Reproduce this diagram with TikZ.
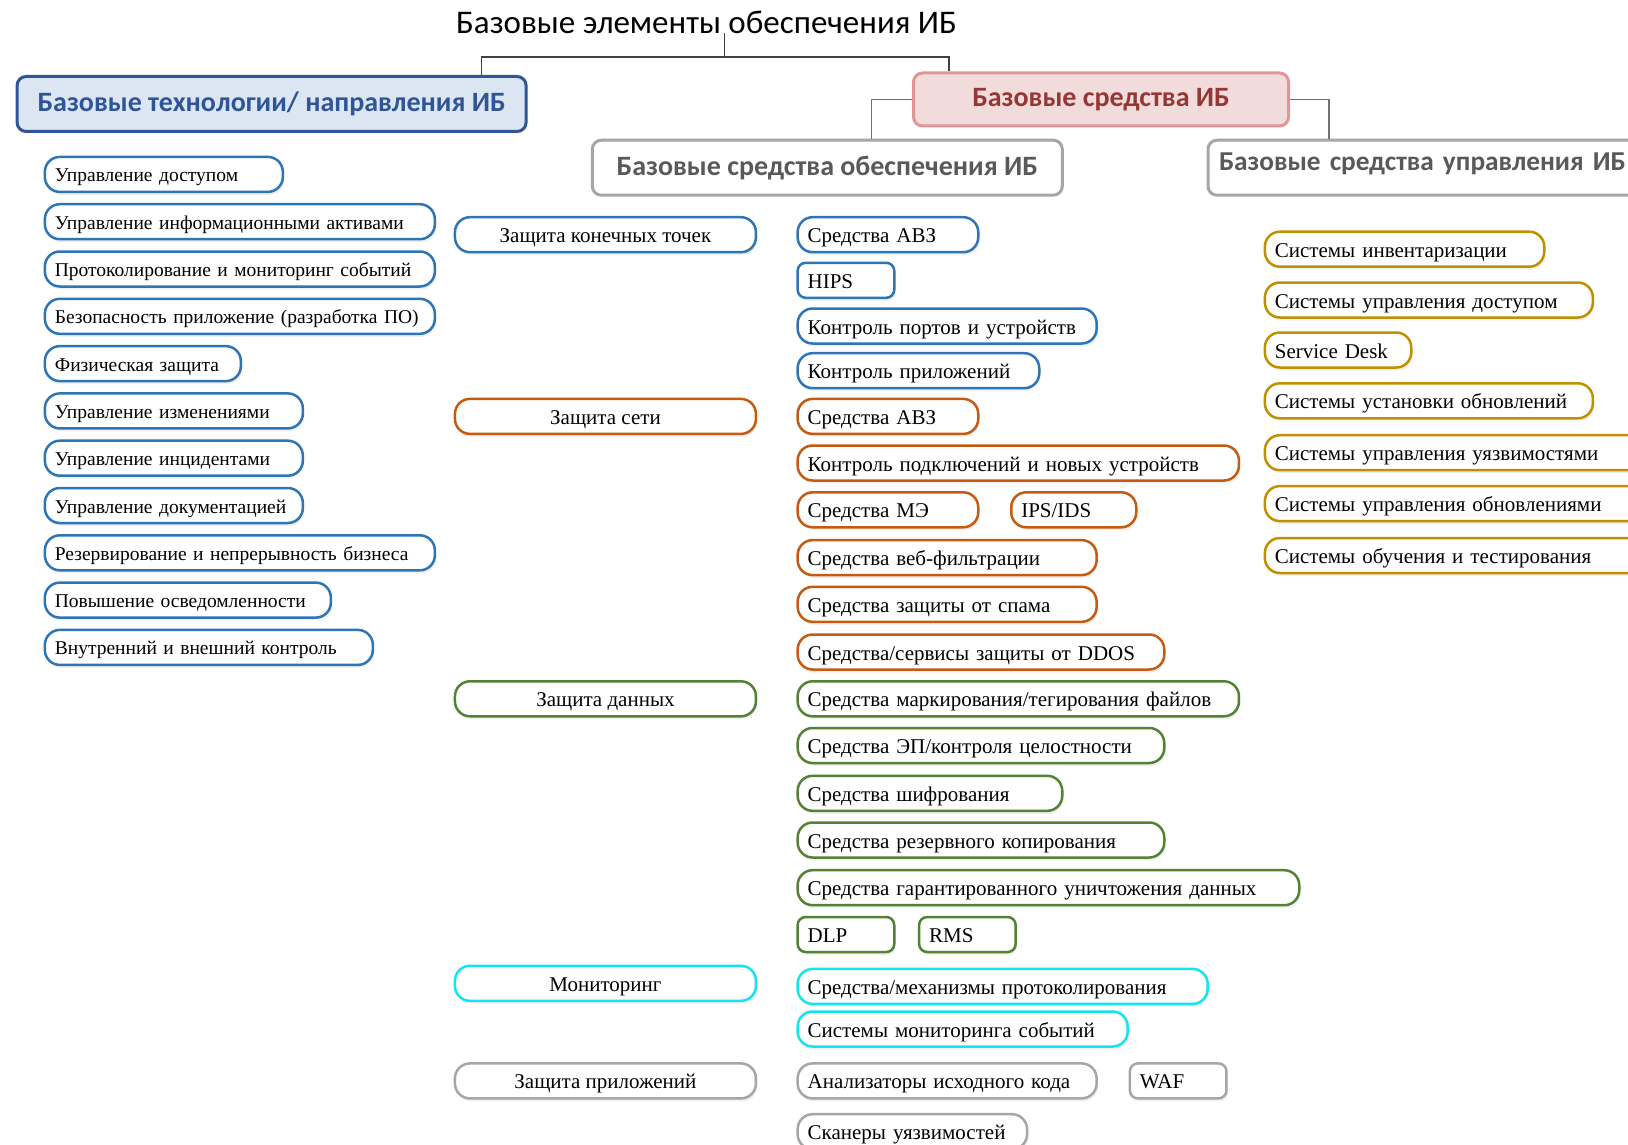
\documentclass[tikz,border=0pt]{standalone}
\usepackage{fontspec}
\setmainfont{Liberation Serif}
\newfontfamily\headfont{Carlito}
\usetikzlibrary{shadows}

\definecolor{cBlue}{RGB}{46,117,182}
\definecolor{cOrange}{RGB}{197,90,17}
\definecolor{cGreen}{RGB}{84,130,53}
\definecolor{cCyan}{RGB}{20,228,240}
\definecolor{cGray}{RGB}{166,166,166}
\definecolor{cGold}{RGB}{191,144,0}
\definecolor{hdBlue}{RGB}{47,85,151}
\definecolor{hdBlueFill}{RGB}{220,230,242}
\definecolor{hdRed}{RGB}{149,55,53}
\definecolor{hdRedLine}{RGB}{222,150,150}
\definecolor{hdRedFill}{RGB}{242,220,219}
\definecolor{hdText}{RGB}{89,89,89}

\begin{document}
\begin{tikzpicture}[x=1pt,y=-1pt,
    itm/.style={draw=#1, fill=white, line width=2.5pt, rounded corners=15pt, minimum height=35pt,
      inner xsep=10pt, inner ysep=0pt, anchor=west, align=left,
      text height=16pt, text depth=0pt, font=\fontsize{21}{22}\selectfont,
      drop shadow={opacity=0.12, shadow xshift=1.5pt, shadow yshift=-3pt}},
    sml/.style={itm=#1, rounded corners=8pt},
    dir/.style={itm=cBlue, text height=15pt, font=\fontsize{19.5}{21}\selectfont},
    cat/.style={itm=#1, minimum width=301pt, align=center},
    hdr/.style={line width=3pt, rounded corners=9pt, minimum height=55pt, anchor=west,
      font=\headfont\bfseries\fontsize{28}{32}\selectfont},
    link/.style={draw=black!75, line width=1.5pt},
    sublink/.style={draw=black!55, line width=1.5pt}]
  \useasboundingbox (0,0) rectangle (1628,1145);
  \clip (0,0) rectangle (1628,1145);

  \node[font=\headfont\fontsize{33}{36}\selectfont] (title) at (706.5,22) {Базовые элементы обеспечения ИБ};

  \node[hdr, draw=hdBlue, fill=hdBlueFill, text=hdBlue, minimum width=509pt] (tech) at (15.6,104) {Базовые технологии/ направления ИБ};
  \node[hdr, draw=hdRedLine, fill=hdRedFill, text=hdRed, minimum width=375pt, minimum height=53pt] (tools) at (912,99.5) {Базовые средства ИБ};
  \node[hdr, draw=cGray, fill=white, text=hdText, minimum width=470pt] (secure) at (590.8,167.7) {Базовые средства обеспечения ИБ};
  \node[hdr, draw=cGray, fill=white, text=hdText, inner xsep=11pt, text width=430pt, align=left,
    text depth=12pt, font=\headfont\bfseries\fontsize{27.3}{32}\selectfont] (mgmt) at (1206.5,167.7) {Базовые средства управления ИБ};

  \coordinate (fork) at (724.7,57.1);
  \draw[link] ([yshift=4pt]title.south -| fork) -- (fork);
  \draw[link] ([xshift=-46pt]tech.north east) |- (fork) -| ([xshift=37pt]tools.north west);
  \draw[sublink] (tools.west) -| ([xshift=44pt]secure.north);
  \draw[sublink] (tools.east) -| ([xshift=122.5pt]mgmt.north west);

  \foreach \t/\w [count=\i] in {Управление доступом/218,
      Управление информационными активами/370,
      Протоколирование и мониторинг событий/370,
      Безопасность приложение (разработка ПО)/370,
      Физическая защита/176,
      Управление изменениями/238,
      Управление инцидентами/238,
      Управление документацией/238,
      Резервирование и непрерывность бизнеса/370,
      Повышение осведомленности/266,
      Внутренний и внешний контроль/308}
    \node[dir, text width=\w pt] (dir\i) at (43.6,{174.4+(\i-1)*47.3}) {\t};

  \node[cat=cBlue] (endp) at (453.7,234.7) {Защита конечных точек};
  \node[cat=cOrange] (net) at (453.7,416.4) {Защита сети};
  \node[cat=cGreen] (data) at (453.7,698.8) {Защита данных};
  \node[cat=cCyan] (mon) at (453.7,983.3) {Мониторинг};
  \node[cat=cGray] (app) at (453.7,1080.9) {Защита приложений};

  \node[itm=cBlue, text width=160.6pt] (av1) at (796.4,234.7) {Средства АВЗ};
  \node[sml=cBlue, text width=76.6pt] (hips) at (796.4,280.3) {HIPS};
  \node[itm=cBlue, text width=279pt] (ports) at (796.4,326) {Контроль портов и устройств};
  \node[itm=cBlue, text width=221.6pt] (apps) at (796.4,370.7) {Контроль приложений};

  \node[itm=cOrange, text width=160.6pt] (av2) at (796.4,416.4) {Средства АВЗ};
  \node[itm=cOrange, text width=421.3pt] (conn) at (796.4,463) {Контроль подключений и новых устройств};
  \node[itm=cOrange, text width=160.6pt] (fw) at (796.4,509.8) {Средства МЭ};
  \node[itm=cOrange, text width=105pt] (ips) at (1010,509.8) {IPS/IDS};
  \node[itm=cOrange, text width=279pt] (web) at (796.4,557.6) {Средства веб-фильтрации};
  \node[itm=cOrange, text width=279pt] (spam) at (796.4,604.3) {Средства защиты от спама};
  \node[itm=cOrange, text width=346.6pt] (ddos) at (796.4,652) {Средства/сервисы защиты от DDOS};

  \node[itm=cGreen, text width=421.3pt] (tag) at (796.4,698.8) {Средства маркирования/тегирования файлов};
  \node[itm=cGreen, text width=346.6pt] (sign) at (796.4,745.5) {Средства ЭП/контроля целостности};
  \node[itm=cGreen, text width=244.6pt] (enc) at (796.4,793.3) {Средства шифрования};
  \node[itm=cGreen, text width=346.6pt] (bak) at (796.4,840) {Средства резервного копирования};
  \node[itm=cGreen, text width=481.6pt] (wipe) at (796.4,887.7) {Средства гарантированного уничтожения данных};
  \node[sml=cGreen, text width=76.6pt] (dlp) at (796.4,934.5) {DLP};
  \node[sml=cGreen, text width=76.5pt] (rms) at (917.9,934.5) {RMS};

  \node[itm=cCyan, text width=390pt] (logs) at (796.4,986.4) {Средства/механизмы протоколирования};
  \node[itm=cCyan, text width=310pt] (siem) at (796.4,1029) {Системы мониторинга событий};

  \node[itm=cGray, text width=279pt] (sast) at (796.4,1080.9) {Анализаторы исходного кода};
  \node[sml=cGray, text width=76.6pt] (waf) at (1128.6,1080.9) {WAF};
  \node[itm=cGray, text width=209.4pt] (scan) at (796.4,1131.7) {Сканеры уязвимостей};

  \node[itm=cGold, text width=259.4pt] (inv) at (1263.6,249.2) {Системы инвентаризации};
  \node[itm=cGold, text width=308pt] (iam) at (1263.6,300) {Системы управления доступом};
  \node[itm=cGold, text width=126.4pt] (desk) at (1263.6,350) {Service Desk};
  \node[itm=cGold, text width=308pt] (inst) at (1263.6,400.8) {Системы установки обновлений};
  \node[itm=cGold, text width=360pt] (vuln) at (1263.6,452.7) {Системы управления уязвимостями};
  \node[itm=cGold, text width=360pt] (patch) at (1263.6,503.6) {Системы управления обновлениями};
  \node[itm=cGold, text width=360pt] (edu) at (1263.6,555.5) {Системы обучения и тестирования};
\end{tikzpicture}
\end{document}
